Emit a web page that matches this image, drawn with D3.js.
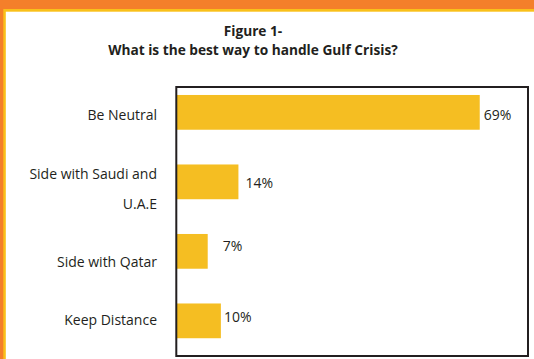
<!DOCTYPE html>
<html>
<head>
<meta charset="utf-8">
<script src="https://cdn.jsdelivr.net/npm/d3@7"></script>
<style>
  body { margin: 0; background: #fff; }
  svg text { font-family: "Open Sans", "Noto Sans", sans-serif; fill: #231f20; }
</style>
</head>
<body>
<svg id="view"></svg>
<script>
// data
const categories = ['Be Neutral', 'Side with Saudi and U.A.E', 'Side with Qatar', 'Keep Distance'];
const values = [69, 14, 7, 10];
const titleLines = ['Figure 1-', 'What is the best way to handle Gulf Crisis?'];

const W = 534, H = 359;
const svg = d3.select('#view').attr('width', W).attr('height', H);

// page border: orange band with thin yellow stripe
svg.append('rect').attr('x', 0).attr('y', 0).attr('width', W).attr('height', H).attr('fill', '#f47f2a');
svg.append('rect').attr('x', 3.3).attr('y', 9).attr('width', W).attr('height', H).attr('fill', '#f9c01a');
svg.append('rect').attr('x', 5.8).attr('y', 11.7).attr('width', W).attr('height', H).attr('fill', '#fff');

// title
svg.selectAll('.title')
  .data(titleLines)
  .enter().append('text')
  .attr('class', 'title')
  .attr('x', 253)
  .attr('y', (d, i) => 36 + i * 18.5)
  .attr('text-anchor', 'middle')
  .style('font-weight', 'bold')
  .style('font-size', '13.7px')
  .text(d => d);

const frame = {left: 176.3, top: 87, right: 528, bottom: 356};

const x = d3.scaleLinear().domain([0, 80]).range([177, 528]);
const y = d3.scaleBand().domain(categories)
  .range([77.6, 355.6])
  .paddingInner(0.5).paddingOuter(0.25);

// bars
svg.selectAll('.bar')
  .data(categories)
  .enter().append('rect')
  .attr('class', 'bar')
  .attr('x', x(0))
  .attr('y', d => y(d))
  .attr('width', (d, i) => x(values[i]) - x(0))
  .attr('height', y.bandwidth())
  .attr('fill', '#f5be22');

// frame box
svg.append('rect')
  .attr('x', frame.left).attr('y', frame.top)
  .attr('width', frame.right - frame.left)
  .attr('height', frame.bottom - frame.top)
  .attr('fill', 'none')
  .attr('stroke', '#231f20')
  .attr('stroke-width', 2);

// category labels, the original nudges some of them a little
const labelNudge = {'Be Neutral': 3, 'Side with Qatar': 11, 'Keep Distance': -1};
const wrapped = {'Side with Saudi and U.A.E': ['Side with Saudi and', 'U.A.E']};

categories.forEach(c => {
  const cy = y(c) + y.bandwidth() / 2;
  const lines = wrapped[c] || [c];
  const t = svg.append('text')
    .attr('text-anchor', 'end')
    .style('font-size', '14px');
  lines.forEach((ln, i) => {
    t.append('tspan')
      .attr('x', 157)
      .attr('y', cy + (labelNudge[c] || 0) + (lines.length > 1 ? -8 + i * 30 : 0))
      .attr('dy', '0.35em')
      .text(ln);
  });
});

// value labels
const valueNudge = {'Be Neutral': [4, 3], 'Side with Saudi and U.A.E': [7, 1], 'Side with Qatar': [15, -5], 'Keep Distance': [3, -3.5]};
svg.selectAll('.val')
  .data(categories)
  .enter().append('text')
  .attr('class', 'val')
  .attr('x', (d, i) => x(values[i]) + valueNudge[d][0])
  .attr('y', d => y(d) + y.bandwidth() / 2 + valueNudge[d][1])
  .attr('dy', '0.35em')
  .style('font-size', '14px')
  .text((d, i) => values[i] + '%');
</script>
</body>
</html>
